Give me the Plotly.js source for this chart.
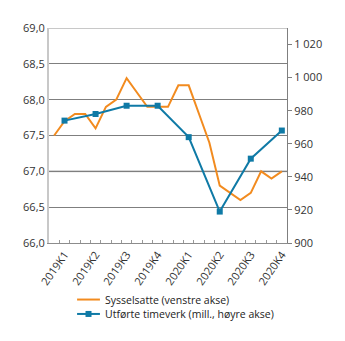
<!DOCTYPE html>
<html>
<head>
<meta charset="utf-8">
<script src="https://cdn.plot.ly/plotly-3.0.1.min.js"></script>
<style>html,body{margin:0;padding:0;background:#fff;}#chart{width:345px;height:341px;}</style>
</head>
<body>
<div id="chart"></div>
<script>
const months = ['2019-01','2019-02','2019-03','2019-04','2019-05','2019-06','2019-07','2019-08','2019-09','2019-10','2019-11','2019-12',
                '2020-01','2020-02','2020-03','2020-04','2020-05','2020-06','2020-07','2020-08','2020-09','2020-10','2020-11'];
const sysselsatte = [67.5,67.7,67.8,67.8,67.6,67.9,68.0,68.3,68.1,67.9,67.9,67.9,
                     68.2,68.2,67.8,67.4,66.8,66.7,66.6,66.7,67.0,66.9,67.0];
const quarters = ['2019K1','2019K2','2019K3','2019K4','2020K1','2020K2','2020K3','2020K4'];
const timeverk = [974,978,983,983,964,919,951,968];
const seriesNames = ['Sysselsatte (venstre akse)','Utførte timeverk (mill., høyre akse)'];

const monthIdx = months.map((m,i)=>i);
const quarterIdx = quarters.map((q,i)=>i*3+1);
const boundaries = months.slice(1).map((m,i)=>i+0.5);

const orange = '#f28b1f';
const blue = '#0f7aa6';
const font = 'Open Sans, Noto Sans, sans-serif';

const traces = [
  {x: monthIdx, y: sysselsatte, type:'scatter', mode:'lines', name:seriesNames[0],
   line:{color:orange, width:2}, yaxis:'y'},
  {x: quarterIdx, y: timeverk, type:'scatter', mode:'lines+markers', name:seriesNames[1],
   line:{color:blue, width:2}, marker:{symbol:'square', size:6, color:blue}, yaxis:'y2'}
];

// custom legend (paper coords)
const legY = [-0.263, -0.330];
const legColors = [orange, blue];
const shapes = [
  {type:'line', xref:'paper', yref:'y', x0:0, x1:1, y0:67, y1:67, line:{color:'#c8c8c8', width:2}, layer:'below'},
  {type:'line', xref:'paper', yref:'y', x0:0, x1:1, y0:69, y1:69, line:{color:'#c8c8c8', width:2}, layer:'below'}
];
const annotations = [];
seriesNames.forEach((n,i)=>{
  shapes.push({type:'line', xref:'paper', yref:'paper', x0:0.118, x1:0.214, y0:legY[i], y1:legY[i],
               line:{color:legColors[i], width:2}});
  annotations.push({xref:'paper', yref:'paper', x:0.227, y:legY[i], xanchor:'left', yanchor:'middle',
                    text:n, showarrow:false, font:{family:font, size:10.5, color:'#222'}});
});
shapes.push({type:'rect', xref:'paper', yref:'paper', xsizemode:'pixel', ysizemode:'pixel',
             xanchor:0.166, yanchor:legY[1], x0:-3, x1:3, y0:-3, y1:3,
             fillcolor:blue, line:{width:0}});

const layout = {
  width:345, height:341,
  margin:{l:49, r:58, t:28, b:98, autoexpand:false},
  paper_bgcolor:'#fff', plot_bgcolor:'#fff',
  separators:', ',
  font:{family:font, size:11, color:'#333'},
  showlegend:false,
  xaxis:{
    range:[-0.5, months.length-0.5], tickmode:'array', tickvals:quarterIdx, ticktext:quarters,
    ticks:'', tickangle:-55, showgrid:false, zeroline:false, automargin:false,
    showline:true, linecolor:'#8c8c8c', linewidth:1,
    tickfont:{family:font, size:11, color:'#333'},
    minor:{tickmode:'array', tickvals:boundaries, ticks:'inside', ticklen:3, tickcolor:'#999', showgrid:false}
  },
  yaxis:{
    range:[66,69], tickmode:'array', tickvals:[66,66.5,67,67.5,68,68.5,69], tickformat:'.1f',
    showgrid:true, gridcolor:'#7f7f7f', gridwidth:1, zeroline:false, automargin:false,
    showline:true, linecolor:'#c8c8c8', linewidth:2, ticks:'', ticklen:0,
    tickfont:{family:font, size:11, color:'#333'}
  },
  yaxis2:{
    overlaying:'y', side:'right', range:[900,1030], tickmode:'array', tickvals:[900,920,940,960,980,1000,1020],
    tickformat:',d', showgrid:false, zeroline:false, showline:true, linecolor:'#7f7f7f', linewidth:1,
    ticks:'outside', ticklen:4, tickcolor:'#7f7f7f', automargin:false,
    tickfont:{family:font, size:11, color:'#333'}
  },
  shapes: shapes,
  annotations: annotations
};

Plotly.newPlot('chart', traces, layout, {displayModeBar:false, staticPlot:true});
</script>
</body>
</html>
